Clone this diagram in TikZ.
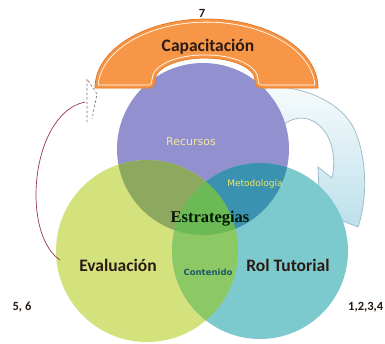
\documentclass[tikz,border=0pt]{standalone}
\usepackage{fontspec}
\setmainfont{Carlito}
\newfontfamily\djv{DejaVu Sans}
\newfontfamily\lser{Liberation Serif}
\definecolor{cPur}{HTML}{9290CE}
\definecolor{cGrn}{HTML}{D4E27D}
\definecolor{cTea}{HTML}{7DCACE}
\definecolor{cPG}{HTML}{8DA960}
\definecolor{cPT}{HTML}{3A92B0}
\definecolor{cGT}{HTML}{8CC864}
\definecolor{cAll}{HTML}{6BBA55}
\definecolor{cOra}{HTML}{F79646}
\definecolor{cOraD}{HTML}{E27A2C}
\definecolor{cTxt}{HTML}{2A1A12}
\definecolor{cCur}{HTML}{9A3848}
\definecolor{cDash}{HTML}{8A7070}
\definecolor{cArrT}{HTML}{F7FBFC}
\definecolor{cArrB}{HTML}{BCE0EB}
\definecolor{cArrD}{HTML}{98B8C6}
\definecolor{cRec}{HTML}{F0E8A0}
\definecolor{cMet}{HTML}{F4E660}
\definecolor{cCon}{HTML}{1E5868}
\begin{document}
\begin{tikzpicture}[x=1pt,y=-1pt,
  lbl/.style={font=\bfseries\fontsize{17.5}{17.5}\selectfont, text=cTxt, inner sep=0pt},
  num/.style={font=\bfseries\fontsize{12.5}{12.5}\selectfont, text=cTxt, inner sep=0pt},
]
\useasboundingbox (0,0) rectangle (385,343);
\clip (0,0) rectangle (385,343);
\fill[white] (0,0) rectangle (385,343);

\coordinate (cP) at (203,149);
\coordinate (cG) at (147,251);
\coordinate (cT) at (260,251);

% curved arrow on the right
\shade[top color=cArrT, bottom color=cArrB, draw=cArrD, line width=0.7pt]
  (266,87) .. controls (300,85) and (337,100) .. (352,125)
  .. controls (366,150) and (369,195) .. (358,227)
  -- (320,212) -- (318,167) -- (332,178)
  .. controls (337,155) and (331,131) .. (313,121)
  .. controls (301,115) and (290,119) .. (282,126)
  -- (262,100) -- cycle;

% circles
\fill[cPur] (cP) circle[radius=86pt];
\fill[cGrn] (cG) circle[radius=91pt];
\fill[cTea] (cT) circle[radius=88pt];
\begin{scope}
  \clip (cP) circle[radius=86pt];
  \fill[cPG] (cG) circle[radius=91pt];
  \fill[cPT] (cT) circle[radius=88pt];
\end{scope}
\begin{scope}
  \clip (cG) circle[radius=91pt];
  \fill[cGT] (cT) circle[radius=88pt];
\end{scope}
\begin{scope}
  \clip (cP) circle[radius=86pt];
  \clip (cG) circle[radius=91pt];
  \fill[cAll] (cT) circle[radius=88pt];
\end{scope}

% arch
\def\archshape{(95,88) arc[start angle=180, end angle=0, x radius=111.5pt, y radius=69pt]
  -- (261,88) .. controls (257,88) and (255,85) .. (255,80)
  arc[start angle=0, end angle=180, x radius=50pt, y radius=22pt]
  .. controls (155,85) and (153,88) .. (149,88) -- cycle}
\fill[cOra] \archshape;
\begin{scope}
  \clip \archshape;
  \draw[white, line width=7pt] \archshape;
  \draw[cOra, line width=5.4pt] \archshape;
\end{scope}
\draw[cOraD, line width=0.8pt] \archshape;

% left connector
\coordinate (lTop) at (85,102);
\coordinate (lBot) at (60,260);
\draw[cCur, line width=0.7pt] (lTop) .. controls (55,108) and (36,150) .. (36,195)
  .. controls (36,225) and (45,250) .. (lBot);
\draw[cDash, line width=0.6pt, dash pattern=on 2.5pt off 2pt]
  (87,122) -- (87,79) -- (97,94) -- (92,119);

% labels
\node[num] (n7) at (202,13) {7};
\node[lbl] (cap) at (208,47) {Capacitación};
\node[font=\djv\fontsize{11}{11}\selectfont, text=cRec, inner sep=0pt] (rec) at (191,142) {Recursos};
\node[font=\djv\fontsize{9}{9}\selectfont, text=cMet, inner sep=0pt] (met) at (255,184) {Metodología};
\node[font=\lser\bfseries\fontsize{16.5}{16.5}\selectfont, text=black!90!green, inner sep=0pt] (est) at (210,219) {Estrategias};
\node[lbl] (eva) at (118,265) {Evaluación};
\node[lbl] (rol) at (288,265) {Rol Tutorial};
\node[font=\djv\bfseries\fontsize{8.5}{8.5}\selectfont, text=cCon, inner sep=0pt] (con) at (208,272) {Contenido};
\node[num] (n56) at (22,307) {5, 6};
\node[num, anchor=west] (n1234) at (348,307) {1,2,3,4};
\end{tikzpicture}
\end{document}
